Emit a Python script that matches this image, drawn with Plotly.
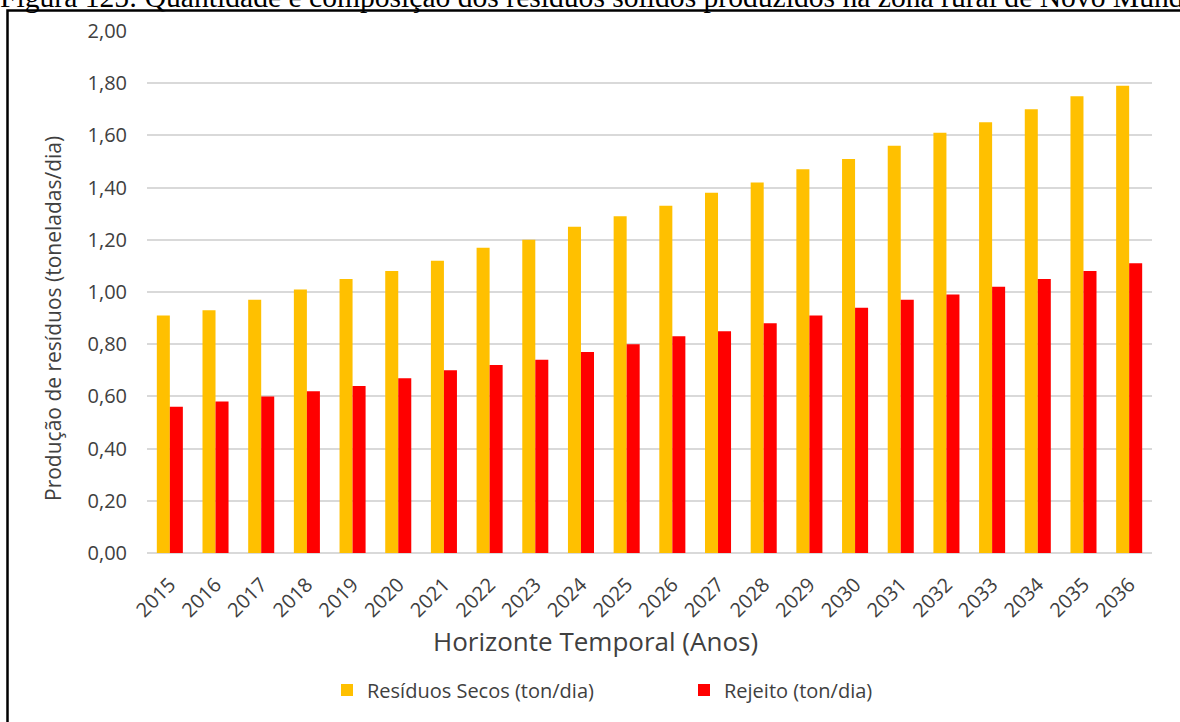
import plotly.graph_objects as go

# Série histórica / projeção (toneladas por dia)
anos = [str(a) for a in range(2015, 2037)]
residuos_secos = [0.91, 0.93, 0.97, 1.01, 1.05, 1.08, 1.12, 1.17, 1.20, 1.25, 1.29,
                  1.33, 1.38, 1.42, 1.47, 1.51, 1.56, 1.61, 1.65, 1.70, 1.75, 1.79]
rejeito = [0.56, 0.58, 0.60, 0.62, 0.64, 0.67, 0.70, 0.72, 0.74, 0.77, 0.80,
           0.83, 0.85, 0.88, 0.91, 0.94, 0.97, 0.99, 1.02, 1.05, 1.08, 1.11]
y_ticks = [0, 0.2, 0.4, 0.6, 0.8, 1.0, 1.2, 1.4, 1.6, 1.8, 2.0]

W, H = 1180, 722
ML, MR, MT, MB = 147, 28, 31, 169
PW, PH = W - ML - MR, H - MT - MB


def px_x(x):
    return (x - ML) / PW


def px_y(y):
    return (H - MB - y) / PH


FONT = "Open Sans"
TXT = "#404040"

fig = go.Figure()
fig.add_trace(go.Bar(x=anos, y=residuos_secos, name="Resíduos Secos (ton/dia)",
                     marker=dict(color="#FFC000", line=dict(width=0))))
fig.add_trace(go.Bar(x=anos, y=rejeito, name="Rejeito (ton/dia)",
                     marker=dict(color="#FF0000", line=dict(width=0))))

fig.update_layout(
    width=W, height=H,
    margin=dict(l=ML, r=MR, t=MT, b=MB, pad=0),
    paper_bgcolor="white", plot_bgcolor="white",
    barmode="group", bargap=0.43, bargroupgap=0,
    separators=",.",
    font=dict(family=FONT, size=20, color=TXT),
    showlegend=True,
    legend=dict(orientation="h", x=px_x(327), xanchor="left",
                y=px_y(690), yanchor="middle",
                entrywidth=312, entrywidthmode="pixels",
                font=dict(family=FONT, size=20, color=TXT),
                itemclick=False, bgcolor="rgba(0,0,0,0)"),
)

fig.update_xaxes(showgrid=False, ticks="", tickangle=-45, ticklabelstandoff=15,
                 tickfont=dict(family=FONT, size=20, color=TXT),
                 showline=False, zeroline=False)
fig.update_yaxes(range=[0, 2.0], tickvals=y_ticks, tickformat=".2f",
                 showgrid=True, gridcolor="#d9d9d9", gridwidth=1.5,
                 zeroline=True, zerolinecolor="#d9d9d9", zerolinewidth=1.5,
                 ticks="", ticklabelstandoff=19,
                 tickfont=dict(family=FONT, size=20, color=TXT))

# títulos dos eixos
fig.add_annotation(text="Horizonte Temporal (Anos)", xref="paper", yref="paper",
                   x=px_x(595), y=px_y(641), xanchor="center", yanchor="middle",
                   showarrow=False, font=dict(family=FONT, size=26, color=TXT))
fig.add_annotation(text="Produção de resíduos (toneladas/dia)", xref="paper", yref="paper",
                   x=px_x(53), y=px_y(319), xanchor="center", yanchor="middle",
                   textangle=-90, showarrow=False,
                   font=dict(family=FONT, size=21, color=TXT))

# legenda da figura
fig.add_annotation(text="Figura 125: Quantidade e composição dos resíduos sólidos produzidos na zona rural de Novo Mundo",
                   xref="paper", yref="paper", x=px_x(-2), y=px_y(-3),
                   xanchor="left", yanchor="middle", showarrow=False,
                   font=dict(family="Liberation Serif", size=29.6, color="black"))

# moldura
fig.add_shape(type="rect", xref="paper", yref="paper",
              x0=px_x(7.5), x1=px_x(1210), y0=px_y(10.5), y1=px_y(760),
              line=dict(color="black", width=2.5), fillcolor="rgba(0,0,0,0)", layer="above")

fig.write_html("out.html")
